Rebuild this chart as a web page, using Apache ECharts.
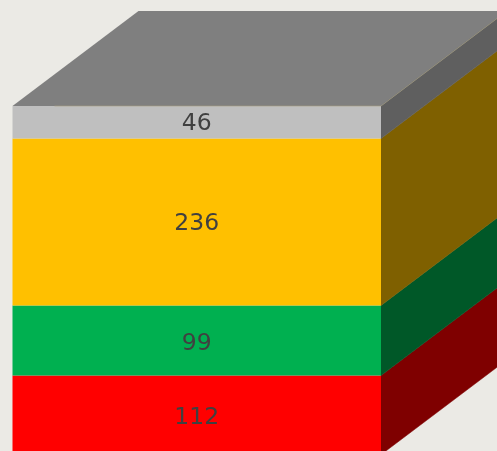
<!DOCTYPE html>
<html><head><meta charset="utf-8">
<style>html,body{margin:0;padding:0;background:#ebeae5;overflow:hidden}#c{width:497px;height:451px}</style>
<script src="https://cdn.jsdelivr.net/npm/echarts@6/dist/echarts.min.js"></script>
</head><body><div id="c"></div>
<script>
const categories = ['Stack'];
const seriesNames = ['D', 'C', 'B', 'A'];
const seriesValues = [112, 99, 236, 46];
const frontColors = ['#ff0000', '#00b050', '#ffc000', '#bfbfbf'];
const sideColors = ['#7f0000', '#005828', '#7f6000', '#5f5f5f'];
const labelNudge = [3, 3, 1.5, 2];
const topColor = '#7f7f7f';
const edgeColor = '#a89f80';
const depth = { dx: 126, dy: -95 };

const chart = echarts.init(document.getElementById('c'), null, { renderer: 'canvas' });
const total = seriesValues.reduce((a, b) => a + b, 0);
let base = 0;
const rows = seriesValues.map((v, i) => { const r = [0, base, base + v, i]; base += v; return r; });

function renderItem(params, api) {
  const i = api.value(3);
  const bl = api.coord([categories[0], api.value(1)]);
  const tl = api.coord([categories[0], api.value(2)]);
  const band = api.size([1, 0])[0];
  const x0 = bl[0] - band / 2, x1 = bl[0] + band / 2;
  const y0 = bl[1], y1 = tl[1];
  const children = [{
    type: 'polygon',
    shape: { points: [[x1, y0], [x1, y1], [x1 + depth.dx, y1 + depth.dy], [x1 + depth.dx, y0 + depth.dy]] },
    style: { fill: sideColors[i], stroke: sideColors[i], lineWidth: 0.5 }
  }, {
    type: 'rect',
    shape: { x: x0, y: y1, width: x1 - x0, height: y0 - y1 },
    style: { fill: frontColors[i] }
  }];
  if (i === seriesValues.length - 1) {
    children.unshift({
      type: 'polygon',
      shape: { points: [[x0, y1], [x1, y1], [x1 + depth.dx, y1 + depth.dy], [x0 + depth.dx, y1 + depth.dy]] },
      style: { fill: topColor }
    });
    children.push({
      type: 'polyline',
      shape: { points: [[x0 + depth.dx / 3, y1], [x1, y1], [x1 + depth.dx, y1 + depth.dy]] },
      style: { fill: 'none', stroke: edgeColor, lineWidth: 0.6 }
    });
  }
  children.push({
    type: 'text',
    style: {
      text: String(seriesValues[i]),
      x: (x0 + x1) / 2, y: (y0 + y1) / 2 + labelNudge[i],
      align: 'center', verticalAlign: 'middle',
      fill: '#404040', fontSize: 23.5, fontFamily: 'DejaVu Sans'
    }
  });
  return { type: 'group', children };
}

chart.setOption({
  animation: false,
  backgroundColor: '#ebeae5',
  grid: { left: 12.5, top: 106, width: 368.5, height: 348.7, outerBoundsMode: 'none', containLabel: false },
  xAxis: { type: 'category', data: categories, show: false },
  yAxis: { type: 'value', min: 0, max: total, show: false },
  series: [{
    type: 'custom',
    name: seriesNames.join(','),
    clip: false,
    renderItem,
    encode: { x: 0, y: 2 },
    data: rows
  }]
});
</script></body></html>
